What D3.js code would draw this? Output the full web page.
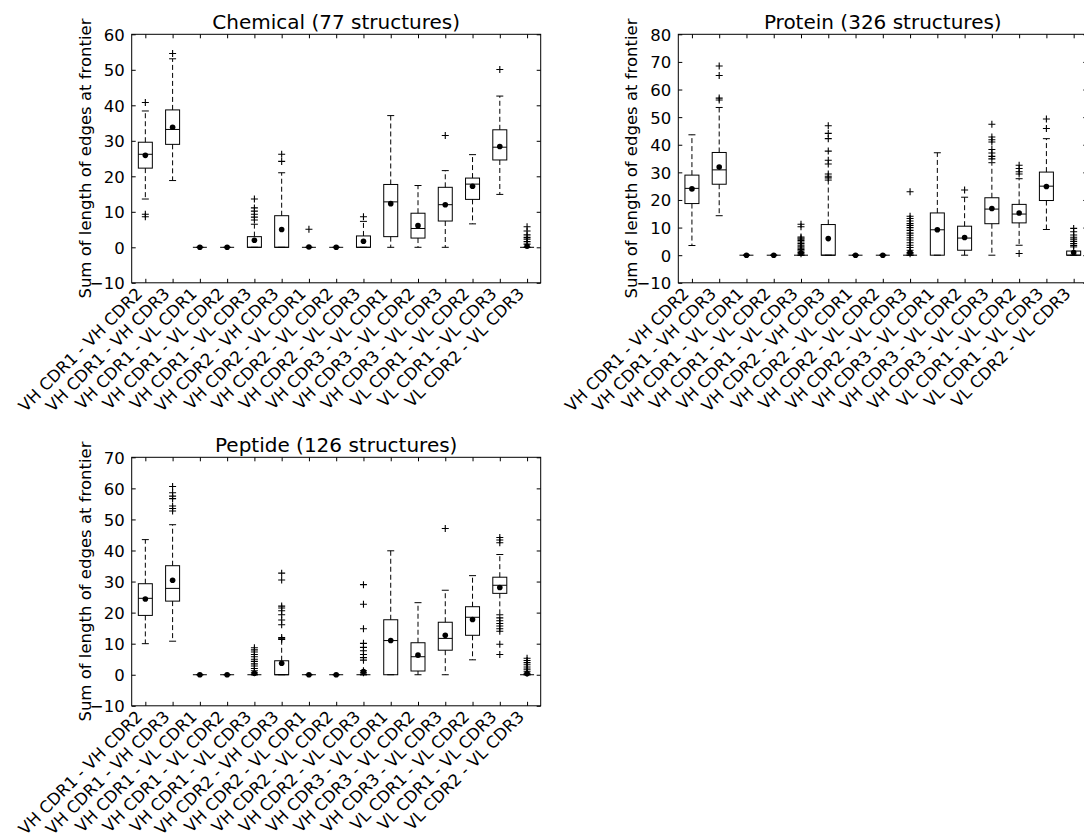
<!DOCTYPE html>
<html>
<head>
<meta http-equiv="Content-Type" content="text/html; charset=utf-8" />
<script src="https://cdn.jsdelivr.net/npm/d3@7"></script>
<title>Frontier boxplots</title>
<style>
  body { margin: 0; background: #fff; }
  text { font-family: "DejaVu Sans", sans-serif; fill: #000; }
</style>
</head>
<body>
<svg width="1084" height="839" id="mainsvg"></svg>
<script>
// categories (CDR pairs)
const pairs = ['VH CDR1 - VH CDR2', 'VH CDR1 - VH CDR3', 'VH CDR1 - VL CDR1', 'VH CDR1 - VL CDR2',
  'VH CDR1 - VL CDR3', 'VH CDR2 - VH CDR3', 'VH CDR2 - VL CDR1', 'VH CDR2 - VL CDR2',
  'VH CDR2 - VL CDR3', 'VH CDR3 - VL CDR1', 'VH CDR3 - VL CDR2', 'VH CDR3 - VL CDR3',
  'VL CDR1 - VL CDR2', 'VL CDR1 - VL CDR3', 'VL CDR2 - VL CDR3'];

// each row: [whisker low, q1, median, q3, whisker high, mean]
const chemicalStats = [
  [13.6, 22.3, 26.2, 29.6, 38.4, 25.9], [18.8, 29.0, 33.2, 38.7, 53.1, 33.8],
  [0, 0, 0, 0, 0, 0], [0, 0, 0, 0, 0, 0],
  [0, 0, 0, 3.0, 6.5, 2.0], [0, 0, 0, 8.9, 21.0, 5.0],
  [0, 0, 0, 0, 0, 0.07], [0, 0, 0, 0, 0, 0],
  [0, 0, 0, 3.2, 7.3, 1.7], [0, 3.0, 12.8, 17.7, 37.1, 12.3],
  [0, 2.6, 5.3, 9.6, 17.4, 6.1], [0, 7.4, 12.0, 16.9, 21.6, 12.0],
  [6.6, 13.5, 17.8, 19.5, 26.1, 17.2], [14.9, 24.6, 28.2, 33.1, 42.6, 28.4],
  [0, 0, 0, 0, 0, 0.3]];
const chemicalFliers = [
  [40.8, 9.3, 8.6], [54.6], [], [], [13.6, 11.1, 10.2, 9.3, 8.5, 7.7], [26.2, 24.2],
  [5.1], [], [8.6], [], [], [31.5], [], [50.1], [5.8, 4.6, 3.5, 2.8, 2.3, 1.6, 0.9]];

const proteinStats = [
  [3.5, 18.7, 24.2, 29.0, 43.6, 24.0], [14.3, 25.7, 30.9, 37.2, 53.5, 31.9],
  [0, 0, 0, 0, 0, 0], [0, 0, 0, 0, 0, 0],
  [0, 0, 0, 0, 0, 0.8], [0, 0, 0, 11.1, 27.2, 6.0],
  [0, 0, 0, 0, 0, 0], [0, 0, 0, 0, 0, 0],
  [0, 0, 0, 0, 0, 1.0], [0, 0, 9.2, 15.3, 37.1, 9.2],
  [0, 1.8, 6.2, 10.5, 21.0, 6.4], [0, 11.4, 16.7, 20.8, 33.5, 16.9],
  [3.6, 11.7, 14.9, 18.4, 27.7, 15.3], [9.3, 19.8, 25.0, 30.1, 42.2, 24.9],
  [0, 0, 0, 1.5, 3.0, 1.0]];
const proteinFliers = [
  [], [68.5, 65.1, 56.9, 56.2], [], [],
  [11.2, 10.3, 6.6, 6.2, 5.8, 5.3, 4.8, 4.2, 3.6, 3.0, 2.5, 2.0, 1.5, 1.0, 0.5],
  [46.9, 44.1, 42.2, 37.7, 34.4, 33.0, 29.4, 28.6, 28.0],
  [], [],
  [23.0, 14.1, 13.3, 12.4, 11.5, 10.8, 10.0, 9.0, 8.0, 7.2, 6.3, 5.5, 4.5, 3.6, 2.8, 1.8, 1.0, 0.5],
  [], [23.6], [47.4, 42.8, 41.8, 41.0, 38.3, 37.0, 35.8, 34.9],
  [32.6, 31.4, 30.2, 29.4, 0.6], [49.3, 45.9], [9.7, 8.5, 7.3, 6.5, 5.8, 5.0, 4.2, 3.5]];

const peptideStats = [
  [10.0, 19.1, 24.6, 29.3, 43.5, 24.4], [10.8, 23.7, 27.8, 35.1, 48.3, 30.4],
  [0, 0, 0, 0, 0, 0], [0, 0, 0, 0, 0, 0],
  [0, 0, 0, 0, 0, 0.5], [0, 0, 0, 4.5, 11.6, 3.7],
  [0, 0, 0, 0, 0, 0], [0, 0, 0, 0, 0, 0],
  [0, 0, 0, 0, 0, 1.0], [0, 0, 11.0, 17.7, 39.9, 11.0],
  [0, 1.2, 5.8, 10.3, 23.2, 6.3], [0, 7.9, 11.7, 16.9, 27.2, 12.7],
  [4.8, 12.7, 18.5, 21.9, 31.9, 17.8], [19.3, 26.2, 28.8, 31.4, 38.7, 28.1],
  [0, 0, 0, 0, 0, 0.4]];
const peptideFliers = [
  [], [60.6, 58.6, 57.5, 56.7, 54.3, 53.5, 52.7], [], [],
  [8.7, 8.0, 7.3, 6.5, 5.8, 5.0, 4.3, 3.5, 2.8, 2.0, 1.3, 0.6],
  [32.7, 30.5, 22.1, 21.5, 20.6, 19.3, 17.6, 16.1, 12.0, 11.4],
  [], [],
  [29.0, 22.7, 14.8, 10.1, 8.8, 7.7, 6.5, 5.5, 4.7, 1.3, 0.6],
  [], [], [47.1], [],
  [44.2, 43.4, 42.5, 18.3, 17.4, 16.5, 15.7, 14.8, 14.0, 9.8, 6.5],
  [5.3, 4.6, 3.9, 3.2, 2.5, 1.8, 1.1, 0.5]];

const yTicksChem = [-10, 0, 10, 20, 30, 40, 50, 60];
const yTicksProt = [-10, 0, 10, 20, 30, 40, 50, 60, 70, 80];
const yTicksPept = [-10, 0, 10, 20, 30, 40, 50, 60, 70];

const svg = d3.select('#mainsvg');
const pw = 409, ph = 248.5;

function panel(left, top, title, stats, fliers, yTicks) {
  const g = svg.append('g');
  const x = d3.scaleLinear().domain([0.5, pairs.length + 0.5]).range([left, left + pw]);
  const y = d3.scaleLinear().domain([yTicks[0], yTicks[yTicks.length - 1]]).range([top + ph, top]);
  const bw = 14, cw = 7;

  // axes, ticks pointing inward on all four sides
  const fmt = d => d3.format('d')(d).replace('-', '\u2212');
  const yl = g.append('g').attr('transform', `translate(${left},0)`)
    .call(d3.axisLeft(y).tickValues(yTicks).tickSize(-4).tickPadding(7).tickFormat(fmt));
  yl.selectAll('text').style('font-size', '16.5px').attr('dy', '0.36em');
  g.append('g').attr('transform', `translate(${left + pw},0)`)
    .call(d3.axisRight(y).tickValues(yTicks).tickSize(-4).tickFormat(''));
  g.append('g').attr('transform', `translate(0,${top + ph})`)
    .call(d3.axisBottom(x).tickValues(d3.range(1, pairs.length + 1)).tickSize(-4).tickFormat(''));
  g.append('g').attr('transform', `translate(0,${top})`)
    .call(d3.axisTop(x).tickValues(d3.range(1, pairs.length + 1)).tickSize(-4).tickFormat(''));
  g.selectAll('.domain').remove();
  g.selectAll('.tick line').attr('stroke', '#000');

  g.append('rect').attr('x', left).attr('y', top).attr('width', pw).attr('height', ph)
    .attr('fill', 'none').attr('stroke', '#000').attr('stroke-width', 1);

  g.selectAll('.xlab').data(pairs).join('text')
    .attr('class', 'xlab')
    .attr('text-anchor', 'end')
    .attr('transform', (d, i) => `translate(${x(i + 1) - 2},${top + ph + 12}) rotate(-45)`)
    .style('font-size', '16.5px')
    .text(d => d);

  g.append('text').attr('x', left + pw / 2).attr('y', top - 5)
    .attr('text-anchor', 'middle').style('font-size', '20px').text(title);

  g.append('text').attr('text-anchor', 'middle')
    .attr('transform', `translate(${left - 41},${top + ph / 2}) rotate(-90)`)
    .style('font-size', '16.5px').text('Sum of length of edges at frontier');

  // boxes
  const boxes = g.selectAll('.box').data(stats).join('g').attr('class', 'box')
    .attr('transform', (d, i) => `translate(${x(i + 1)},0)`);
  boxes.append('line').attr('y1', d => y(d[1])).attr('y2', d => y(d[0]))
    .attr('stroke', '#000').attr('stroke-dasharray', '5,3');
  boxes.append('line').attr('y1', d => y(d[3])).attr('y2', d => y(d[4]))
    .attr('stroke', '#000').attr('stroke-dasharray', '5,3');
  boxes.append('line').attr('x1', -cw / 2).attr('x2', cw / 2)
    .attr('y1', d => y(d[0])).attr('y2', d => y(d[0])).attr('stroke', '#000');
  boxes.append('line').attr('x1', -cw / 2).attr('x2', cw / 2)
    .attr('y1', d => y(d[4])).attr('y2', d => y(d[4])).attr('stroke', '#000');
  boxes.append('rect').attr('x', -bw / 2).attr('width', bw)
    .attr('y', d => y(d[3])).attr('height', d => y(d[1]) - y(d[3]))
    .attr('fill', 'none').attr('stroke', '#000');
  boxes.append('line').attr('x1', -bw / 2).attr('x2', bw / 2)
    .attr('y1', d => y(d[2])).attr('y2', d => y(d[2])).attr('stroke', '#000');

  // fliers drawn as '+' markers
  boxes.each(function (d, i) {
    d3.select(this).selectAll('.flier').data(fliers[i]).join('path')
      .attr('class', 'flier')
      .attr('d', v => `M-3.5,${y(v)}h7M0,${y(v) - 3.5}v7`)
      .attr('stroke', '#000').attr('stroke-width', 1.1);
  });

  boxes.append('circle').attr('cy', d => y(d[5])).attr('r', 2.8).attr('fill', '#000');
}

panel(131.7, 34.3, 'Chemical (77 structures)', chemicalStats, chemicalFliers, yTicksChem);
panel(678.3, 34.3, 'Protein (326 structures)', proteinStats, proteinFliers, yTicksProt);
panel(131.7, 457.3, 'Peptide (126 structures)', peptideStats, peptideFliers, yTicksPept);
</script>
</body>
</html>
